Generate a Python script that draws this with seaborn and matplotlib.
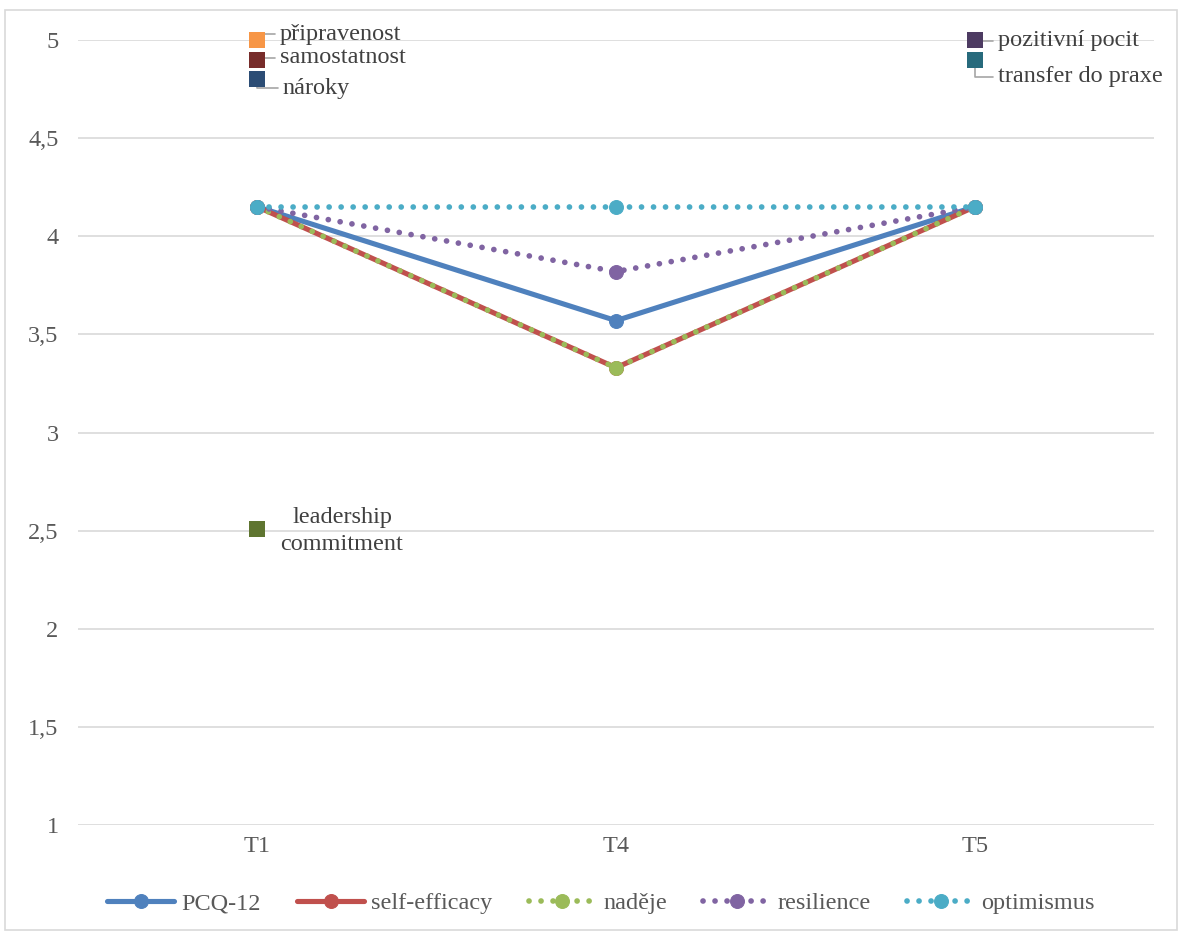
import matplotlib
matplotlib.use("Agg")
import matplotlib.pyplot as plt
from matplotlib.patches import Rectangle
import seaborn as sns

# Measurement points
periods = ["T1", "T4", "T5"]

# PCQ-12 scale and its subscales
pcq12 = [4.15, 3.57, 4.15]
self_efficacy = [4.15, 3.33, 4.15]
nadeje = [4.15, 3.33, 4.15]
resilience = [4.15, 3.82, 4.15]
optimismus = [4.15, 4.15, 4.15]

# Single-point items
item_names = ["připravenost", "samostatnost", "nároky",
              "pozitivní pocit", "transfer do praxe", "leadership\ncommitment"]
item_periods = ["T1", "T1", "T1", "T5", "T5", "T1"]
item_values = [5.0, 4.9, 4.8, 5.0, 4.9, 2.51]

y_ticks = [1, 1.5, 2, 2.5, 3, 3.5, 4, 4.5, 5]

sns.set_theme(style="white")
plt.rcParams["font.family"] = ["Liberation Serif", "DejaVu Serif"]
TXT = "#595959"
FS = 17.5

fig = plt.figure(figsize=(11.81, 9.33), dpi=100)
ax = fig.add_axes([78 / 1181, 1 - 825 / 933, (1154 - 78) / 1181, (825 - 40) / 933])

dot = (0, (0.01, 2.1))
series = [
    ("PCQ-12", pcq12, "#4F81BD", "-", 3.7),
    ("self-efficacy", self_efficacy, "#C0504D", "-", 3.7),
    ("naděje", nadeje, "#9BBB59", dot, 4.1),
    ("resilience", resilience, "#8064A2", dot, 4.1),
    ("optimismus", optimismus, "#4BACC6", dot, 4.1),
]
for name, vals, col, ls, lw in series:
    sns.lineplot(x=periods, y=vals, ax=ax, color=col, linestyle=ls, lw=lw,
                 marker="o", markersize=10, markeredgecolor=col,
                 dash_capstyle="round", solid_capstyle="round", label=name,
                 sort=False)

# Square markers for the single items
item_colors = ["#F79646", "#772C2A", "#2C4D75", "#4D3B62", "#276A7C", "#5F7530"]
sns.scatterplot(x=item_periods, y=item_values, hue=item_names,
                palette=item_colors, marker="s", s=130, linewidth=0,
                ax=ax, legend=False, clip_on=False, zorder=5)

# Labels with short leader lines (offsets in points)
offsets = [(16, 4), (16, 1.5), (18, -6.5), (16.5, -0.7), (16.5, -12.5), (61, -1.5)]
for name, p, v, (dx, dy) in zip(item_names, item_periods, item_values, offsets):
    xi = periods.index(p)
    ha = "center" if "\n" in name else "left"
    ax.annotate(name, xy=(xi, v), xytext=(dx, dy), textcoords="offset points",
                ha=ha, va="center", fontsize=FS, color="#404040",
                linespacing=1.35,
                arrowprops=None if "\n" in name else dict(
                    arrowstyle="-", color="#a6a6a6", lw=1.2,
                    shrinkA=1, shrinkB=4,
                    connectionstyle="angle,angleA=180,angleB=90,rad=0"))

ax.set_xlim(-0.5, 2.5)
ax.set_ylim(1, 5)
ax.set_yticks(y_ticks)
ax.set_yticklabels([f"{t:g}".replace(".", ",") for t in y_ticks])
ax.set_xlabel("")
ax.set_ylabel("")
ax.grid(axis="y", color="#d9d9d9", lw=1.2)
ax.set_axisbelow(True)
for s in ax.spines.values():
    s.set_visible(False)
ax.tick_params(axis="y", length=0, pad=14, labelsize=FS, labelcolor=TXT)
ax.tick_params(axis="x", length=0, pad=8, labelsize=FS, labelcolor=TXT)

ax.get_legend().remove()
handles, labels = ax.get_legend_handles_labels()
fig.legend(handles, labels, loc="center", ncol=5,
           bbox_to_anchor=(601 / 1181, 1 - 903 / 933), frameon=False,
           fontsize=FS, handlelength=2.75, columnspacing=1.5,
           handletextpad=0.3, numpoints=1, labelcolor=TXT)

# Chart border
fig.patches.append(Rectangle((5 / 1181, 3 / 933), 1172 / 1181, 920 / 933,
                             transform=fig.transFigure, fill=False,
                             edgecolor="#d9d9d9", lw=1.2))

fig.savefig("out.png", dpi=100)
